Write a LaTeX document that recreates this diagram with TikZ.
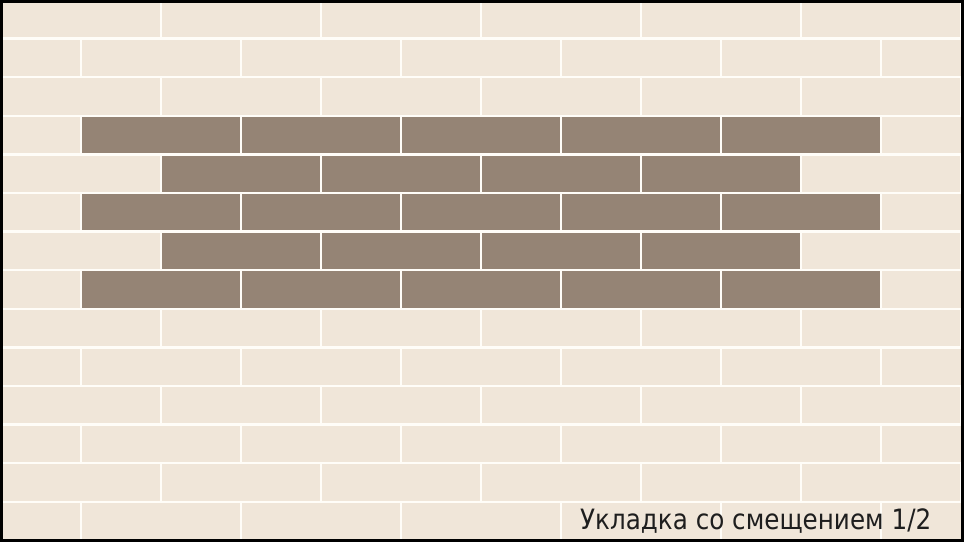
\documentclass[tikz,border=0pt]{standalone}
\usepackage{fontspec}
\usepackage{graphicx}
\newfontfamily\capfont{DejaVu Sans}
\definecolor{lightbrick}{HTML}{F0E6D9}
\definecolor{darkbrick}{HTML}{958475}
\definecolor{grout}{HTML}{FFFDF8}
\definecolor{captxt}{HTML}{1E1E1E}
\tikzset{
  brick/.style={fill=lightbrick, draw=none},
  darkb/.style={fill=darkbrick, draw=none},
  frame/.style={draw=black, line width=3pt},
  caption/.style={font=\capfont\fontsize{28}{28}\selectfont, text=captxt, inner sep=0pt, anchor=base west}
}
\begin{document}
\begin{tikzpicture}[x=1pt,y=-1pt]
\useasboundingbox (0,0) rectangle (964,542);
\fill[grout] (0,0) rectangle (964,542);
\begin{scope}
\clip (0,0) rectangle (964,542);
\foreach \r in {0,...,13}{
  \pgfmathsetmacro{\off}{mod(\r,2)==0 ? 1 : 81}
  \pgfmathsetmacro{\top}{\r*38.6+1.2}
  \pgfmathsetmacro{\bot}{(\r+1)*38.6-1.2}
  \foreach \k in {-1,...,6}{
    \pgfmathsetmacro{\lft}{\off+160*\k+1.2}
    \pgfmathsetmacro{\rgt}{\off+160*(\k+1)-1.2}
    \fill[brick] (\lft,\top) rectangle (\rgt,\bot);
  }
}
\foreach \r in {3,5,7}{
  \pgfmathsetmacro{\top}{\r*38.6+1.2}
  \pgfmathsetmacro{\bot}{(\r+1)*38.6-1.2}
  \foreach \k in {0,...,4}{
    \pgfmathsetmacro{\lft}{81+160*\k+1.2}
    \pgfmathsetmacro{\rgt}{81+160*(\k+1)-1.2}
    \fill[darkb] (\lft,\top) rectangle (\rgt,\bot);
  }
}
\foreach \r in {4,6}{
  \pgfmathsetmacro{\top}{\r*38.6+1.2}
  \pgfmathsetmacro{\bot}{(\r+1)*38.6-1.2}
  \foreach \k in {1,...,4}{
    \pgfmathsetmacro{\lft}{1+160*\k+1.2}
    \pgfmathsetmacro{\rgt}{1+160*(\k+1)-1.2}
    \fill[darkb] (\lft,\top) rectangle (\rgt,\bot);
  }
}
\end{scope}
\node[caption] (cap) at (580,529) {\scalebox{0.88}[1]{Укладка со смещением 1/2}};
\draw[frame] (1.5,1.5) rectangle (962.5,540.5);
\end{tikzpicture}
\end{document}
